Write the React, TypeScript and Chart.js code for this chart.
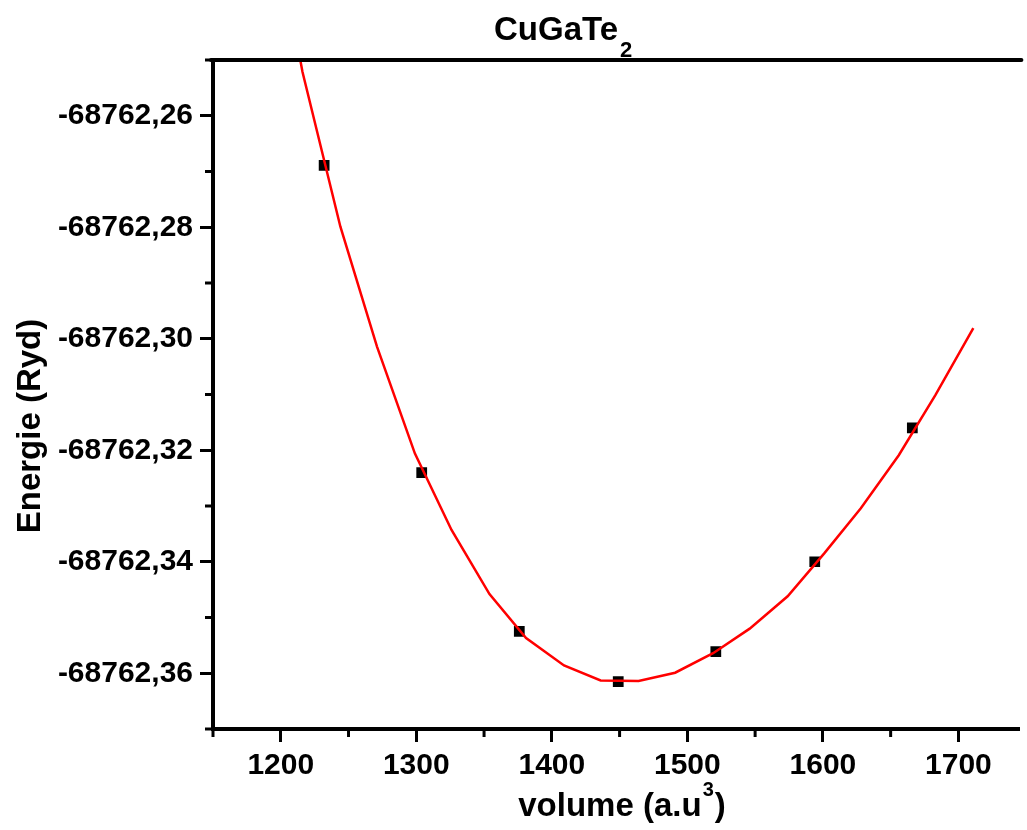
import React, { useEffect, useRef } from 'react';
import { Chart, registerables } from 'chart.js';

Chart.register(...registerables);

// Measured points
const volumes = [1232, 1304, 1376, 1449, 1521, 1594, 1666];
const energies = [-68762.2689, -68762.324, -68762.3525, -68762.3615, -68762.3561, -68762.34, -68762.316];

// Fitted curve
const fitVolumes = [1189, 1216, 1244, 1271, 1299, 1326, 1354, 1381, 1409, 1436, 1464, 1491, 1519, 1546, 1574, 1601, 1628, 1656, 1683, 1711];
const fitEnergies = [
  -68762.2167, -68762.2521, -68762.2799, -68762.3014, -68762.3206, -68762.3343, -68762.3458,
  -68762.3537, -68762.3586, -68762.3613, -68762.3614, -68762.3599, -68762.3564, -68762.352,
  -68762.3462, -68762.3385, -68762.3304, -68762.3209, -68762.3101, -68762.2981,
];

// Axes
const xMajorTicks = [1200, 1300, 1400, 1500, 1600, 1700];
const xMinorTicks = [1150, 1250, 1350, 1450, 1550, 1650];
const yMajorTicks = [-68762.36, -68762.34, -68762.32, -68762.3, -68762.28, -68762.26];
const yMinorTicks = [-68762.37, -68762.35, -68762.33, -68762.31, -68762.29, -68762.27, -68762.25];
const xRange = [1150, 1745];
const yRange = [-68762.37, -68762.25];

const chartTitle = 'CuGaTe';
const chartTitleSub = '2';
const xTitle = 'volume (a.u';
const xTitleSup = '3';
const xTitleEnd = ')';
const yTitle = 'Energie (Ryd)';

const FONT = '"Liberation Sans", Arial, sans-serif';

const decorPlugin = {
  id: 'decor',
  afterDraw(chart: any) {
    const ctx = chart.ctx;
    const { left, right, top, bottom } = chart.chartArea;
    const xs = chart.scales.x;
    const ys = chart.scales.y;
    ctx.save();
    ctx.strokeStyle = '#000';
    ctx.lineCap = 'round';
    // top axis line
    ctx.lineWidth = 4;
    ctx.beginPath();
    ctx.moveTo(left - 2, top);
    ctx.lineTo(right + 2, top);
    ctx.stroke();
    // minor ticks
    ctx.lineCap = 'butt';
    ctx.lineWidth = 3;
    xMinorTicks.forEach((v) => {
      const px = xs.getPixelForValue(v);
      if (px < left - 1 || px > right + 1) return;
      ctx.beginPath();
      ctx.moveTo(px, bottom + 2);
      ctx.lineTo(px, bottom + 8);
      ctx.stroke();
    });
    yMinorTicks.forEach((v) => {
      const py = ys.getPixelForValue(v);
      if (py < top - 1 || py > bottom + 1) return;
      ctx.beginPath();
      ctx.moveTo(left - 2, py);
      ctx.lineTo(left - 8, py);
      ctx.stroke();
    });
    // titles
    ctx.fillStyle = '#000';
    ctx.textBaseline = 'alphabetic';
    ctx.textAlign = 'left';
    ctx.font = `bold 33px ${FONT}`;
    ctx.fillText(chartTitle, 494, 40);
    const tw = ctx.measureText(chartTitle).width;
    ctx.font = `bold 22px ${FONT}`;
    ctx.fillText(chartTitleSub, 494 + tw + 2, 57);

    // x title
    ctx.font = `bold 33px ${FONT}`;
    const w1 = ctx.measureText(xTitle).width;
    ctx.font = `bold 20px ${FONT}`;
    const w2 = ctx.measureText(xTitleSup).width;
    ctx.font = `bold 33px ${FONT}`;
    const w3 = ctx.measureText(xTitleEnd).width;
    const total = w1 + w2 + w3 + 2;
    const x0 = 622 - total / 2;
    ctx.fillText(xTitle, x0, 816);
    ctx.font = `bold 20px ${FONT}`;
    ctx.fillText(xTitleSup, x0 + w1 + 1, 796);
    ctx.font = `bold 33px ${FONT}`;
    ctx.fillText(xTitleEnd, x0 + w1 + w2 + 2, 816);

    // y title
    ctx.save();
    ctx.translate(40, 426);
    ctx.rotate(-Math.PI / 2);
    ctx.textAlign = 'center';
    ctx.font = `bold 33px ${FONT}`;
    ctx.fillText(yTitle, 0, 0);
    ctx.restore();
    ctx.restore();
  },
};

export default function App() {
  const canvasRef = useRef<HTMLCanvasElement | null>(null);

  useEffect(() => {
    const canvas = canvasRef.current;
    if (!canvas) return;
    const chart = new Chart(canvas, {
      type: 'scatter',
      data: {
        datasets: [
          {
            label: 'fit',
            data: fitVolumes.map((v, i) => ({ x: v, y: fitEnergies[i] })),
            showLine: true,
            borderColor: '#ff0000',
            borderWidth: 2.5,
            pointRadius: 0,
            tension: 0,
            fill: false,
          },
          {
            label: 'data',
            data: volumes.map((v, i) => ({ x: v, y: energies[i] })),
            showLine: false,
            pointStyle: 'rect',
            pointRadius: 7.6,
            backgroundColor: '#000',
            borderColor: '#000',
            borderWidth: 0,
          },
        ],
      },
      options: {
        responsive: false,
        devicePixelRatio: 1,
        animation: false,
        layout: { padding: { top: 60, right: 0, left: 0, bottom: 0 } },
        plugins: { legend: { display: false }, tooltip: { enabled: false }, title: { display: false } },
        scales: {
          x: {
            type: 'linear',
            min: xRange[0],
            max: xRange[1],
            afterBuildTicks: (s: any) => {
              s.ticks = xMajorTicks.map((v) => ({ value: v }));
            },
            afterFit: (s: any) => {
              s.height = 101;
            },
            grid: {
              display: true,
              drawOnChartArea: false,
              drawTicks: true,
              tickLength: 13,
              tickWidth: 3,
              tickColor: '#000',
              color: '#000',
            },
            border: { display: true, width: 4, color: '#000' },
            ticks: {
              color: '#000',
              font: { family: FONT, size: 30, weight: 'bold' },
              padding: 6,
              maxRotation: 0,
              autoSkip: false,
              callback: (v: any) => String(v),
            },
          },
          y: {
            type: 'linear',
            min: yRange[0],
            max: yRange[1],
            afterBuildTicks: (s: any) => {
              s.ticks = yMajorTicks.map((v) => ({ value: v }));
            },
            afterFit: (s: any) => {
              s.width = 213;
            },
            grid: {
              display: true,
              drawOnChartArea: false,
              drawTicks: true,
              tickLength: 13,
              tickWidth: 3,
              tickColor: '#000',
              color: '#000',
            },
            border: { display: true, width: 4, color: '#000' },
            ticks: {
              color: '#000',
              font: { family: FONT, size: 30, weight: 'bold' },
              padding: 7,
              autoSkip: false,
              callback: (v: any) => Number(v).toFixed(2).replace('.', ','),
            },
          },
        },
      },
      plugins: [decorPlugin],
    } as any);
    return () => chart.destroy();
  }, []);

  return (
    <div style={{ position: 'absolute', left: 0, top: 0, width: 1027, height: 830, background: '#fff' }}>
      <canvas ref={canvasRef} width={1027} height={830} style={{ display: 'block' }} />
    </div>
  );
}
